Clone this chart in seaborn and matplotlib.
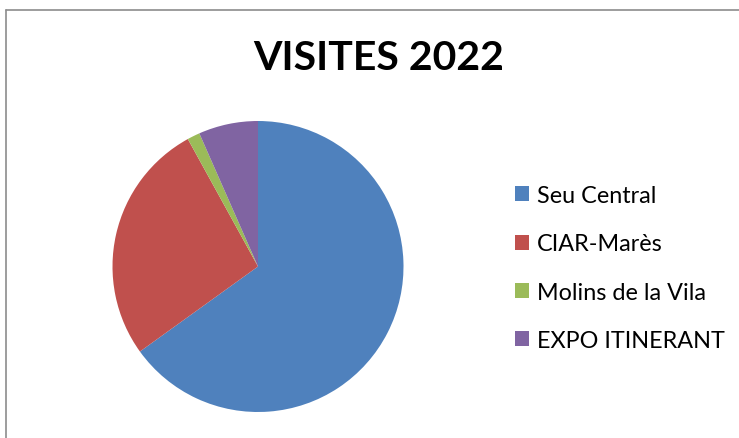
import matplotlib
matplotlib.use('Agg')
import matplotlib.pyplot as plt
from matplotlib.lines import Line2D
import seaborn as sns

sns.set_theme(style='white')
plt.rcParams['font.family'] = ['Lato', 'DejaVu Sans']

# share of visits per site (%)
sites = ['Seu Central', 'CIAR-Marès', 'Molins de la Vila', 'EXPO ITINERANT']
visits = [65.0, 26.9, 1.4, 6.6]
colors = ['#4F81BD', '#C0504D', '#9BBB59', '#8064A2']

W, H = 739, 439
fig = plt.figure(figsize=(W / 100, H / 100), dpi=100)
fig.patch.set_facecolor('white')

# pie box in pixels: x 112.5..403.5, y 122..413 (from top)
ax = fig.add_axes([112.5 / W, (H - 413) / H, 291 / W, 291 / H])
wedges, _ = ax.pie(visits, colors=colors, startangle=90, counterclock=False,
                   radius=1, wedgeprops=dict(linewidth=0))
ax.set_xlim(-1, 1)
ax.set_ylim(-1, 1)
ax.set_aspect('equal')
ax.axis('off')

fig.text(379 / W, 1 - 59 / H, 'VISITES 2022', ha='center', va='center',
         fontsize=29.5, fontweight='bold', color='black')

leg = fig.legend(wedges, sites, loc='center left',
                 bbox_to_anchor=(515 / W, 1 - 269 / H),
                 frameon=False, fontsize=16.8, handlelength=0.6, handleheight=0.6,
                 handletextpad=0.35, labelspacing=1.17, borderaxespad=0,
                 borderpad=0)
for t in leg.get_texts():
    t.set_color('black')

# chart border (only left and top edges visible in the crop)
border = '#8c8c8c'
fig.add_artist(Line2D([5.5 / W, 5.5 / W], [0, 1 - 10.5 / H], color=border, lw=1.2,
                      transform=fig.transFigure))
fig.add_artist(Line2D([5.5 / W, 1], [1 - 10.5 / H, 1 - 10.5 / H], color=border, lw=1.2,
                      transform=fig.transFigure))

fig.savefig('out.png', dpi=100)
